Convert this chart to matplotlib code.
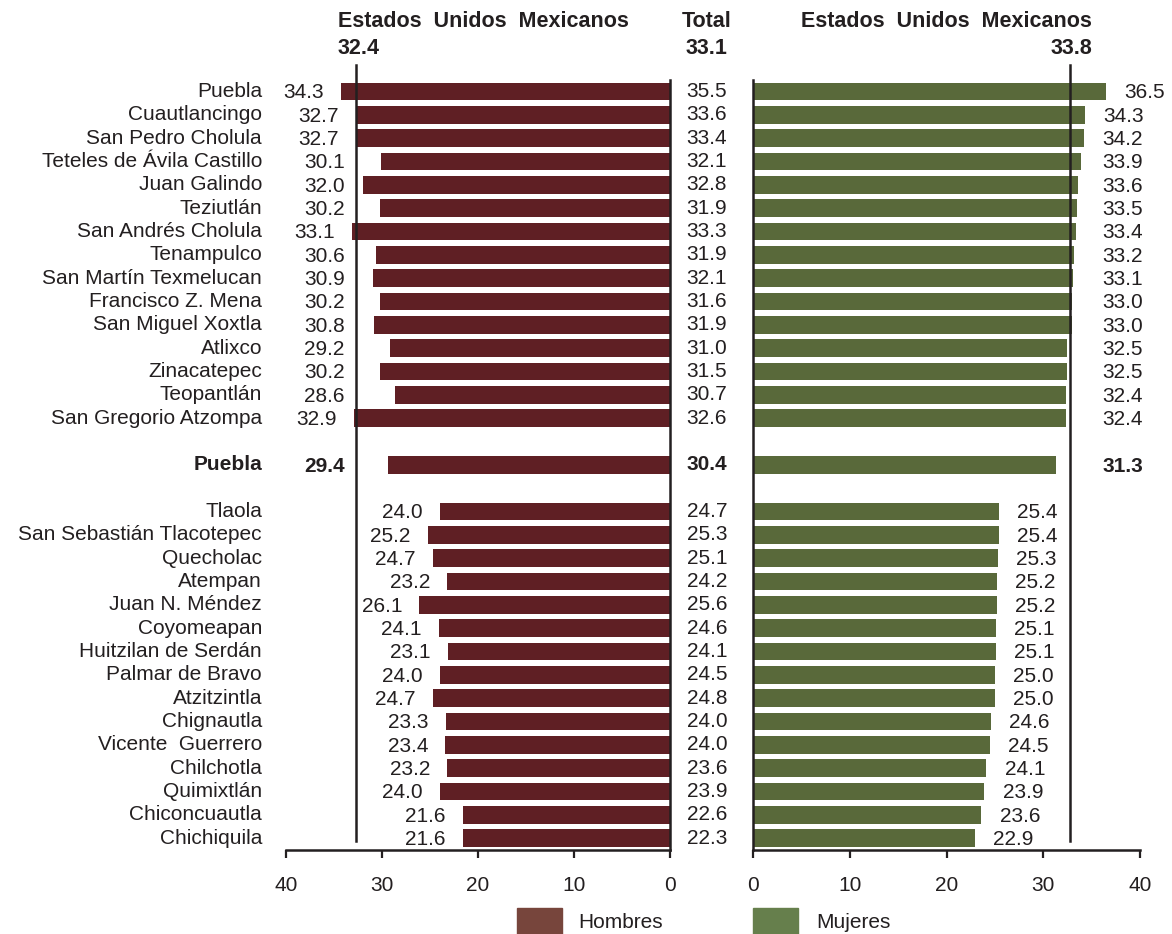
import matplotlib
matplotlib.use("Agg")
import matplotlib.pyplot as plt
from matplotlib.patches import Rectangle

plt.rcParams['font.family'] = ['Liberation Sans', 'DejaVu Sans']

# datos
top_names = ["Puebla", "Cuautlancingo", "San Pedro Cholula", "Teteles de Ávila Castillo",
             "Juan Galindo", "Teziutlán", "San Andrés Cholula", "Tenampulco",
             "San Martín Texmelucan", "Francisco Z. Mena", "San Miguel Xoxtla", "Atlixco",
             "Zinacatepec", "Teopantlán", "San Gregorio Atzompa"]
top_hombres = [34.3, 32.7, 32.7, 30.1, 32.0, 30.2, 33.1, 30.6, 30.9, 30.2, 30.8, 29.2, 30.2, 28.6, 32.9]
top_total = [35.5, 33.6, 33.4, 32.1, 32.8, 31.9, 33.3, 31.9, 32.1, 31.6, 31.9, 31.0, 31.5, 30.7, 32.6]
top_mujeres = [36.5, 34.3, 34.2, 33.9, 33.6, 33.5, 33.4, 33.2, 33.1, 33.0, 33.0, 32.5, 32.5, 32.4, 32.4]

state_name = "Puebla"
state_hombres = 29.4
state_total = 30.4
state_mujeres = 31.3

bot_names = ["Tlaola", "San Sebastián Tlacotepec", "Quecholac", "Atempan", "Juan N. Méndez",
             "Coyomeapan", "Huitzilan de Serdán", "Palmar de Bravo", "Atzitzintla", "Chignautla",
             "Vicente  Guerrero", "Chilchotla", "Quimixtlán", "Chiconcuautla", "Chichiquila"]
bot_hombres = [24.0, 25.2, 24.7, 23.2, 26.1, 24.1, 23.1, 24.0, 24.7, 23.3, 23.4, 23.2, 24.0, 21.6, 21.6]
bot_total = [24.7, 25.3, 25.1, 24.2, 25.6, 24.6, 24.1, 24.5, 24.8, 24.0, 24.0, 23.6, 23.9, 22.6, 22.3]
bot_mujeres = [25.4, 25.4, 25.3, 25.2, 25.2, 25.1, 25.1, 25.0, 25.0, 24.6, 24.5, 24.1, 23.9, 23.6, 22.9]

nac_hombres = "32.4"
nac_total = "33.1"
nac_mujeres = "33.8"
ref_h = 32.7   # posicion de la linea tal como aparece
ref_m = 32.8

c_h = "#5F1F24"
c_m = "#59693A"
c_txt = "#231F20"
fs = 15

top_y = list(range(0, 15))
state_y = 16
bot_y = list(range(18, 33))

fig = plt.figure(figsize=(11.72, 9.34), dpi=100)
ax1 = fig.add_axes([0.2440, 0.0899, 0.3276, 0.8244])
ax2 = fig.add_axes([0.6425, 0.0899, 0.3302, 0.8244])

bh = 0.75
ax1.barh(top_y, top_hombres, height=bh, color=c_h)
ax1.barh([state_y], [state_hombres], height=bh, color=c_h)
ax1.barh(bot_y, bot_hombres, height=bh, color=c_h)
ax2.barh(top_y, top_mujeres, height=bh, color=c_m)
ax2.barh([state_y], [state_mujeres], height=bh, color=c_m)
ax2.barh(bot_y, bot_mujeres, height=bh, color=c_m)

for ax in (ax1, ax2):
    ax.set_ylim(32.51, -0.49)
    ax.set_yticks([])
    ax.set_xticks([0, 10, 20, 30, 40])
    ax.tick_params(axis='x', direction='out', length=6, width=1.6, pad=13,
                   labelsize=fs, colors=c_txt)
    ax.spines['top'].set_visible(False)
    for s in ax.spines.values():
        s.set_linewidth(1.8)
        s.set_color(c_txt)
ax1.set_xlim(40, 0)
ax2.set_xlim(0, 40)
ax1.spines['left'].set_visible(False)
ax2.spines['right'].set_visible(False)

ax1.plot([ref_h, ref_h], [-1.14, 32.12], color=c_txt, lw=1.8, clip_on=False, zorder=3)
ax2.plot([ref_m, ref_m], [-1.14, 32.12], color=c_txt, lw=1.8, clip_on=False, zorder=3)

dy = 0.06
kw = dict(va='center', fontsize=fs, color=c_txt, clip_on=False)
for y, n, h, t, m in zip(top_y, top_names, top_hombres, top_total, top_mujeres):
    ax1.text(42.5, y, n, ha='right', **kw)
    ax1.text(max(h + 1.8, 33.9), y + dy, f"{h:.1f}", ha='right', **kw)
    ax1.text(-3.85, y, f"{t:.1f}", ha='center', **kw)
    ax2.text(max(m + 1.9, 36.1), y + dy, f"{m:.1f}", ha='left', **kw)

ax1.text(42.5, state_y, state_name, ha='right', fontweight='bold', **kw)
ax1.text(33.9, state_y + dy, f"{state_hombres:.1f}", ha='right', fontweight='bold', **kw)
ax1.text(-3.85, state_y, f"{state_total:.1f}", ha='center', fontweight='bold', **kw)
ax2.text(36.1, state_y + dy, f"{state_mujeres:.1f}", ha='left', fontweight='bold', **kw)

for y, n, h, t, m in zip(bot_y, bot_names, bot_hombres, bot_total, bot_mujeres):
    ax1.text(42.5, y, n, ha='right', **kw)
    ax1.text(h + 1.8, y + dy, f"{h:.1f}", ha='right', **kw)
    ax1.text(-3.85, y, f"{t:.1f}", ha='center', **kw)
    ax2.text(m + 1.9, y + dy, f"{m:.1f}", ha='left', **kw)

# encabezados
hk = dict(fontsize=15.5, fontweight='bold', color=c_txt, va='baseline')
fig.text(0.2884, 0.9711, "Estados  Unidos  Mexicanos", ha='left', **hk)
fig.text(0.2884, 0.9422, nac_hombres, ha='left', **hk)
fig.text(0.6032, 0.9711, "Total", ha='center', **hk)
fig.text(0.6032, 0.9422, nac_total, ha='center', **hk)
fig.text(0.9317, 0.9711, "Estados  Unidos  Mexicanos", ha='right', **hk)
fig.text(0.9317, 0.9422, nac_mujeres, ha='right', **hk)

# leyenda
fig.patches.append(Rectangle((517 / 1172, 0), 45 / 1172, 26 / 934, transform=fig.transFigure,
                             color="#77453C"))
fig.patches.append(Rectangle((753 / 1172, 0), 45 / 1172, 26 / 934, transform=fig.transFigure,
                             color="#667F4C"))
fig.text(578 / 1172, 1 - 923 / 934, "Hombres", ha='left', va='center', fontsize=fs, color=c_txt)
fig.text(816 / 1172, 1 - 923 / 934, "Mujeres", ha='left', va='center', fontsize=fs, color=c_txt)

fig.savefig("out.png", dpi=100)
